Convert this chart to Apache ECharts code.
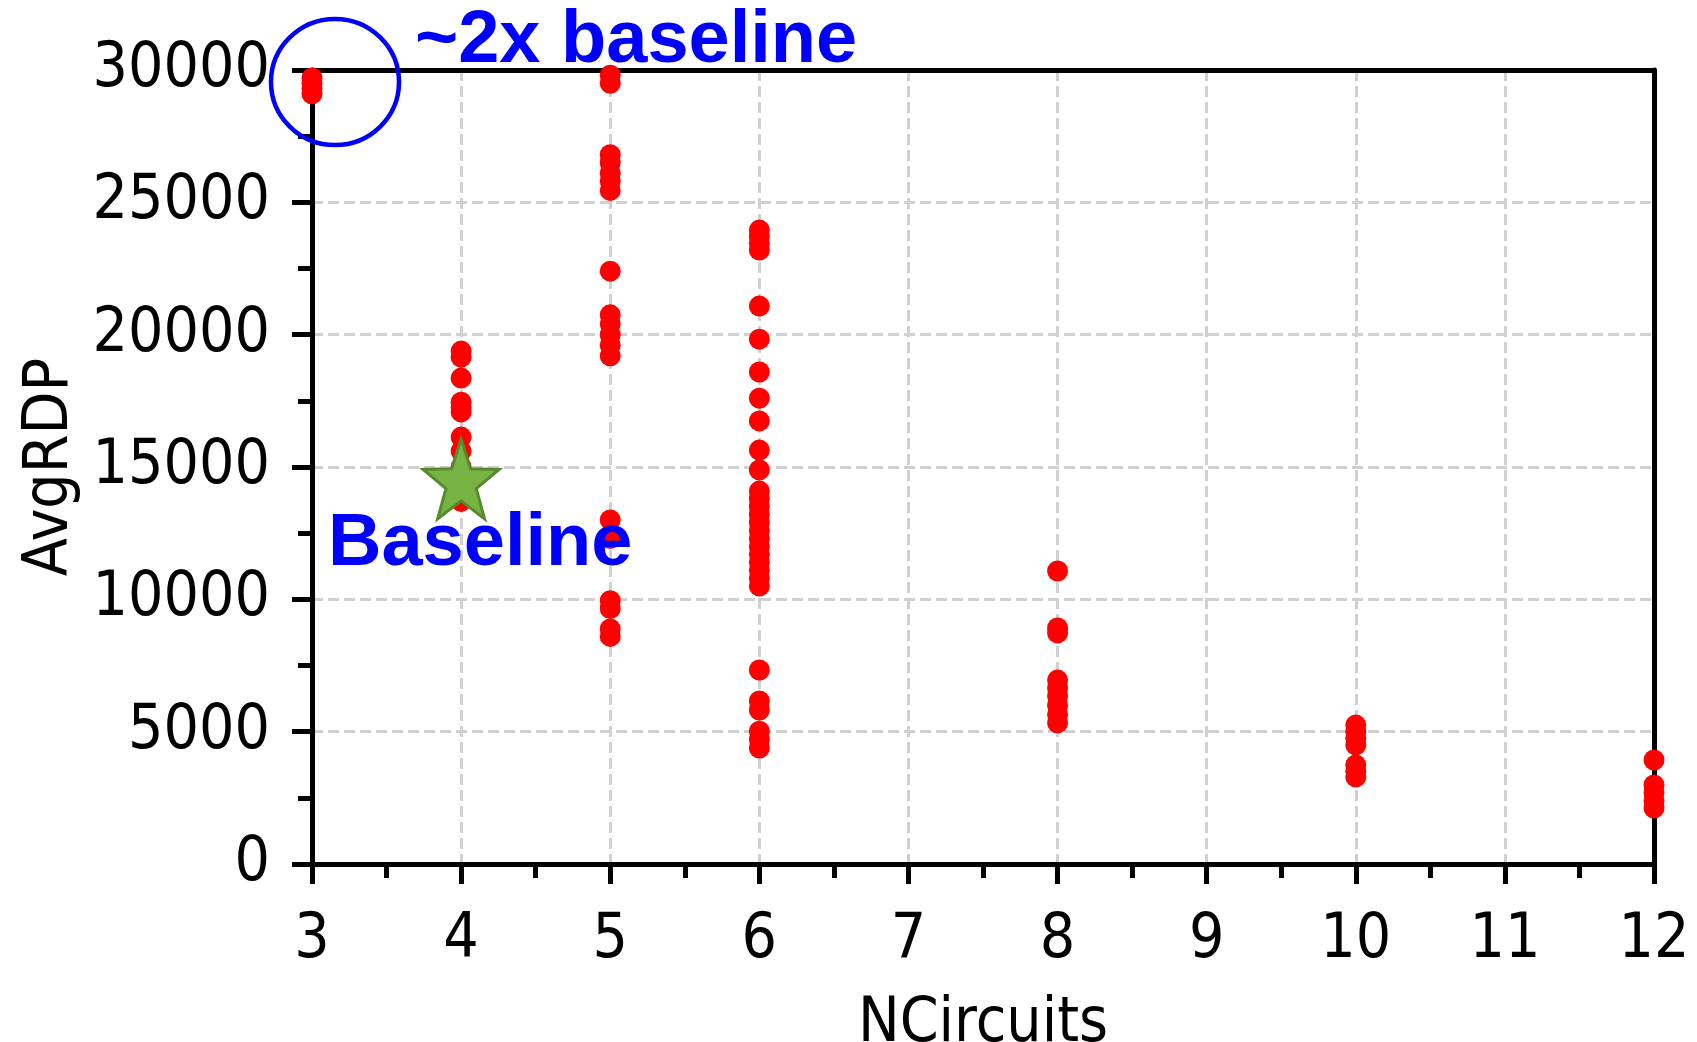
<!DOCTYPE html>
<html>
<head>
<meta charset="utf-8">
<title>AvgRDP vs NCircuits</title>
<script src="https://cdn.jsdelivr.net/npm/echarts@6/dist/echarts.min.js"></script>
<style>
  html, body { margin: 0; padding: 0; background: #fff; }
  #main { width: 1697px; height: 1042px; }
</style>
</head>
<body>
<div id="main"></div>
<script>
// values, one list per NCircuits column
var nc3  = [29100, 29300, 29500, 29700];
var nc4  = [19380, 19150, 18360, 17450, 17250, 17080, 16130, 15600, 15000, 14400, 13900, 13700];
var nc5  = [29800, 29500, 26800, 26500, 26100, 25800, 25450, 22400, 20750, 20400, 20000, 19600, 19200,
            13000, 12300, 9950, 9650, 8880, 8600];
var nc6  = [23950, 23700, 23450, 23200, 21080, 19830, 18590, 17600, 16740, 15640, 14890,
            14090, 13800, 13500, 13200, 12900, 12600, 12300, 12000, 11700, 11400, 11100, 10800, 10500,
            7330, 6160, 5820, 5020, 4700, 4380];
var nc8  = [11070, 8920, 8730, 6950, 6650, 6350, 6000, 5650, 5330];
var nc10 = [5250, 5000, 4750, 4500, 3740, 3500, 3290];
var nc12 = [3930, 2985, 2700, 2400, 2115];

var columns = [[3, nc3], [4, nc4], [5, nc5], [6, nc6], [8, nc8], [10, nc10], [12, nc12]];
var baseline = [4, 14550];

var xTicks = [3, 12, 1];          // min, max, interval
var yTicks = [0, 30000, 5000];

var points = [];
columns.forEach(function (c) {
  c[1].forEach(function (v) { points.push([c[0], v]); });
});

var labelFont = '"DejaVu Sans Condensed", "DejaVu Sans", sans-serif';
var starPath = 'path://M50,0L61.8,33.8L97.6,34.5L69,56.2L79.4,90.5L50,70L20.6,90.5L31,56.2L2.4,34.5L38.2,33.8Z';

var gridLine = { show: true, lineStyle: { color: '#d0d0d0', width: 3, type: [11, 5] } };
var blackLine = { color: '#000', width: 5 };

// plain frame edge (top / right), no ticks or labels
function frameAxis(pos, range) {
  return {
    type: 'value', position: pos, min: range[0], max: range[1], interval: range[2],
    z: 1,
    axisLine: { show: true, onZero: false, lineStyle: blackLine },
    axisTick: { show: false }, axisLabel: { show: false }, splitLine: { show: false }
  };
}

var myChart = echarts.init(document.getElementById('main'));
myChart.setOption({
  animation: false,
  grid: { left: 312, right: 43, top: 70, bottom: 178, containLabel: false, outerBoundsMode: 'none' },
  xAxis: [{
    type: 'value', min: xTicks[0], max: xTicks[1], interval: xTicks[2],
    name: 'NCircuits', nameLocation: 'middle', nameGap: 130,
    nameTextStyle: { fontFamily: labelFont, fontSize: 62, color: '#000' },
    axisLine: { show: true, onZero: false, lineStyle: blackLine },
    axisTick: { show: true, inside: false, length: 20, lineStyle: blackLine },
    minorTick: { show: true, splitNumber: 2, length: 14, lineStyle: blackLine },
    axisLabel: { margin: 46, fontFamily: labelFont, fontSize: 62, color: '#000' },
    splitLine: gridLine
  }, frameAxis('top', xTicks)],
  yAxis: [{
    type: 'value', min: yTicks[0], max: yTicks[1], interval: yTicks[2],
    name: 'AvgRDP', nameLocation: 'middle', nameGap: 229,
    nameTextStyle: { fontFamily: labelFont, fontSize: 62, color: '#000' },
    axisLine: { show: true, onZero: false, lineStyle: blackLine },
    axisTick: { show: true, inside: false, length: 20, lineStyle: blackLine },
    minorTick: { show: true, splitNumber: 2, length: 14, lineStyle: blackLine },
    axisLabel: {
      margin: 42, fontFamily: labelFont, fontSize: 62, color: '#000',
      formatter: function (v) { return String(v); }
    },
    splitLine: gridLine
  }, frameAxis('right', yTicks)],
  series: [{
    type: 'scatter',
    data: points,
    symbol: 'circle',
    symbolSize: 21,
    itemStyle: { color: '#ff0000', opacity: 1 },
    z: 3
  }, {
    type: 'scatter',
    data: [baseline],
    symbol: starPath,
    symbolSize: [76, 80],
    itemStyle: { color: '#78b443', borderColor: '#568a2c', borderWidth: 3, opacity: 1 },
    z: 4
  }],
  graphic: [{
    type: 'ellipse',
    shape: { cx: 335, cy: 82, rx: 64, ry: 63 },
    style: { fill: 'none', stroke: '#0000ff', lineWidth: 4.5 },
    z: 10
  }, {
    type: 'text',
    x: 415, y: 42,
    style: {
      text: '~2x baseline', fill: '#0000ff',
      font: 'bold 74px "Liberation Sans", Arial, sans-serif',
      align: 'left', verticalAlign: 'middle'
    },
    z: 10
  }, {
    type: 'text',
    x: 328, y: 545,
    style: {
      text: 'Baseline', fill: '#0000ff',
      font: 'bold 74px "Liberation Sans", Arial, sans-serif',
      align: 'left', verticalAlign: 'middle'
    },
    z: 10
  }]
});
</script>
</body>
</html>
